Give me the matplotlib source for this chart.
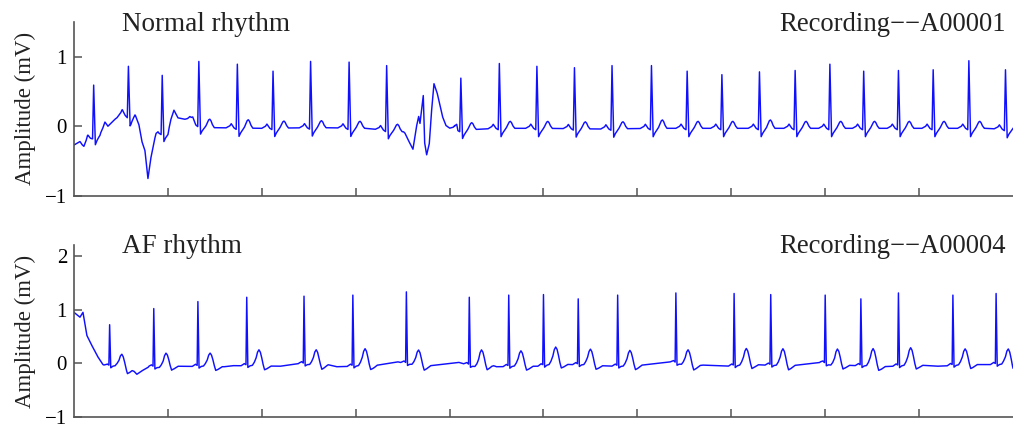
import numpy as np
import matplotlib.pyplot as plt

plt.rcParams['font.family'] = ['Liberation Serif', 'DejaVu Serif']

# ---- Recording A00001 (normal rhythm), time in s, amplitude in mV
n_r_time = [0.21, 0.58, 0.94, 1.33, 1.74, 2.12, 2.52, 2.93, 3.33, 4.12, 4.53, 4.93, 5.33,
            5.73, 6.15, 6.53, 6.90, 7.30, 7.68, 8.05, 8.41, 8.78, 9.15, 9.53, 9.92]
n_r_amp = [0.59, 0.86, 0.73, 0.93, 0.89, 0.79, 0.93, 0.92, 0.87, 0.69, 0.90, 0.86, 0.84,
           0.87, 0.87, 0.79, 0.74, 0.78, 0.80, 0.89, 0.79, 0.80, 0.81, 0.94, 0.81]
n_t_rise = [0.0, 0.0, 0.0, 0.12, 0.12, 0.10, 0.10, 0.10, 0.10, 0.10, 0.10, 0.10, 0.10,
            0.10, 0.12, 0.10, 0.10, 0.12, 0.10, 0.10, 0.10, 0.10, 0.10, 0.10, 0.08]
n_base_t = [0.0, 0.064, 0.106, 0.149, 0.181, 0.277, 0.309, 0.33, 0.362, 0.437, 0.511, 0.554,
            0.607, 0.65, 0.692, 0.724, 0.756, 0.788, 0.82, 0.863, 0.895, 1.001, 1.033, 1.065,
            1.108, 1.182, 1.235, 1.299, 1.45, 2.0, 2.6, 3.1, 3.51, 3.525, 3.568, 3.61, 3.65,
            3.671, 3.685, 3.72, 3.735, 3.756, 3.784, 3.809, 3.834, 3.869, 3.898, 3.927, 3.962,
            4.004, 4.057, 4.076, 4.089, 4.5, 5.0, 5.6, 6.2, 6.8, 7.4, 8.0, 8.6, 9.2, 9.7, 10.0]
n_base_v = [-0.27, -0.22, -0.3, -0.18, -0.17, -0.12, -0.02, 0.06, 0.0, 0.1, 0.18, 0.15,
            0.12, 0.17, 0.02, -0.22, -0.35, -0.75, -0.45, -0.2, -0.1, -0.1, 0.1, 0.23,
            0.12, 0.1, 0.12, 0.02, -0.02, -0.03, -0.02, -0.03, -0.08, -0.1, -0.22, -0.33, 0.01,
            0.14, 0.04, 0.44, -0.24, -0.41, -0.25, 0.23, 0.61, 0.47, 0.3, 0.13, 0.01,
            -0.03, -0.05, 0.01, -0.06, -0.03, -0.03, -0.04, -0.03, -0.03, -0.03, -0.03, -0.03, -0.03, -0.03, -0.05]

# ---- Recording A00004 (AF rhythm)
a_r_time = [0.38, 0.85, 1.32, 1.84, 2.45, 2.97, 3.54, 4.21, 4.63, 5.00, 5.37, 5.79, 6.41,
            7.03, 7.42, 8.00, 8.38, 8.78, 9.36, 9.82]
a_r_amp = [0.72, 1.02, 1.15, 1.23, 1.25, 1.27, 1.33, 1.23, 1.27, 1.28, 1.20, 1.27, 1.31,
           1.30, 1.28, 1.27, 1.20, 1.31, 1.27, 1.30]
a_t_rise = [0.26, 0.27, 0.25, 0.30, 0.30, 0.32, 0.30, 0.32, 0.29, 0.32, 0.30, 0.30, 0.31,
            0.31, 0.32, 0.32, 0.33, 0.33, 0.30, 0.32]
a_base_t = [0.0, 0.064, 0.096, 0.138, 0.192, 0.256, 0.309, 0.351, 0.45, 0.56, 0.62, 0.67, 0.73,
            0.8, 0.95, 1.05, 1.6, 1.7, 2.2, 2.4, 2.6, 2.7, 2.8, 3.2, 3.45, 3.7, 3.9, 4.1, 4.3,
            4.45, 4.5, 4.95, 5.15, 5.9, 6.1, 6.35, 6.55, 6.7, 7.0, 7.25, 7.6, 7.95, 8.1, 8.2,
            8.6, 9.0, 9.2, 9.6, 9.9, 10.0]
a_base_v = [0.95, 0.86, 0.95, 0.52, 0.33, 0.12, -0.02, -0.05, -0.05, -0.12, -0.11, -0.2, -0.13,
            -0.06, -0.09, -0.05, -0.06, -0.04, -0.05, 0.0, -0.05, -0.02, -0.06, -0.04, 0.03, -0.06,
            -0.02, 0.02, -0.08, -0.03, -0.06, -0.05, -0.01, -0.06, -0.02, 0.03, -0.06, -0.03,
            -0.05, -0.02, -0.05, 0.02, -0.06, -0.03, -0.06, -0.03, -0.05, -0.02, -0.02, -0.08]

# beat shapes: offsets (s), fixed part, weight of R, weight of T
n_tpl = dict(dt=[-0.12, -0.08, -0.065, -0.05, -0.035, -0.012, 0.0, 0.018, 0.035, 0.055,
                 0.075, 0.09, 0.105, 0.117, 0.13, 0.145, 0.165],
             fix=[0, 0.03, 0.06, 0.03, 0, -0.02, 0, -0.12, -0.07, -0.03, 0, 0, 0, 0, 0, 0, 0],
             rw=[0, 0, 0, 0, 0, 0, 1, 0, 0, 0, 0, 0, 0, 0, 0, 0, 0],
             tw=[0, 0, 0, 0, 0, 0, 0, 0, 0, 0, 0.1, 0.5, 0.9, 1, 0.8, 0.35, 0])
a_tpl = dict(dt=[-0.06, -0.025, -0.008, 0.0, 0.012, 0.035, 0.06, 0.08, 0.1, 0.115, 0.13,
                 0.145, 0.16, 0.175, 0.19, 0.215, 0.26],
             fix=[0, 0.04, 0.02, 0, -0.03, 0.0, 0.01, 0.02, 0, 0, 0, 0, 0, -0.02, -0.07, -0.05, 0],
             rw=[0, 0, 0, 1, 0, 0, 0, 0, 0, 0, 0, 0, 0, 0, 0, 0, 0],
             tw=[0, 0, 0, 0, 0, 0, 0, 0.15, 0.5, 0.85, 1, 0.85, 0.5, 0.15, 0, 0, 0])


def trace(base_t, base_v, r_time, r_amp, t_rise, tpl):
    dt = np.array(tpl['dt'])
    x = np.unique(np.concatenate([base_t] + [r + dt for r in r_time]))
    x = x[(x >= 0) & (x <= 10)]
    y = np.interp(x, base_t, base_v)
    for r, ra, tr in zip(r_time, r_amp, t_rise):
        shape = (np.array(tpl['fix']) + np.array(tpl['rw']) * (ra - np.interp(r, base_t, base_v))
                 + np.array(tpl['tw']) * tr)
        y = y + np.interp(x, r + dt, shape, left=0, right=0)
    return x, y


fig = plt.figure(figsize=(10.13, 4.25), dpi=100)
ax1 = fig.add_axes([0.073, 0.539, 0.927, 0.410])
ax2 = fig.add_axes([0.073, 0.018, 0.927, 0.4055])

panels = [(ax1, trace(n_base_t, n_base_v, n_r_time, n_r_amp, n_t_rise, n_tpl), (-1, 1.5), [-1, 0, 1]),
          (ax2, trace(a_base_t, a_base_v, a_r_time, a_r_amp, a_t_rise, a_tpl), (-1, 2.2), [-1, 0, 1, 2])]
for ax, (x, y), ylim, yt in panels:
    ax.plot(x, y, color='#1010ff', lw=1.05)
    ax.set_xlim(0, 10)
    ax.set_ylim(*ylim)
    ax.set_yticks(yt)
    ax.set_xticks(range(1, 10))
    ax.set_xticklabels([])
    for s in ['top', 'right']:
        ax.spines[s].set_visible(False)
    for s in ['left', 'bottom']:
        ax.spines[s].set_color('#555555')
        ax.spines[s].set_linewidth(1.2)
    ax.tick_params(direction='in', length=6, width=1.1, color='#555555', labelsize=15, pad=5)
    ax.set_ylabel('Amplitude (mV)', fontsize=16.5, color='#222222')
    ax.yaxis.set_label_coords(-0.04, 0.5)

fig.text(0.1204, 0.927, 'Normal rhythm', fontsize=19.5, va='baseline', ha='left', color='#222222')
fig.text(0.993, 0.927, 'Recording\u2212\u2212A00001', fontsize=19.2, va='baseline', ha='right', color='#222222')
fig.text(0.1204, 0.405, 'AF rhythm', fontsize=19.5, va='baseline', ha='left', color='#222222')
fig.text(0.993, 0.405, 'Recording\u2212\u2212A00004', fontsize=19.2, va='baseline', ha='right', color='#222222')

fig.savefig('out.png', dpi=100)
